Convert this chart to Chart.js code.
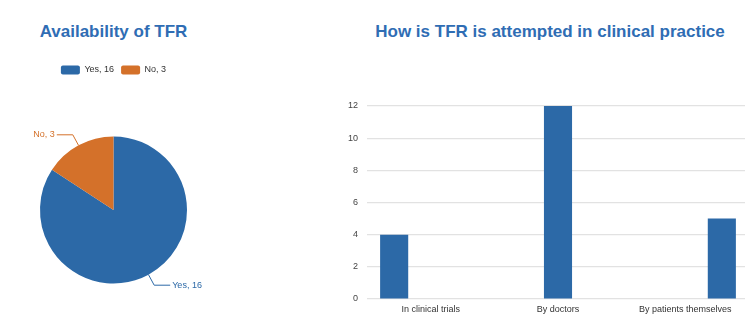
<!DOCTYPE html>
<html>
<head>
<meta charset="utf-8">
<script src="https://cdn.jsdelivr.net/npm/chart.js@4.4.0/dist/chart.umd.min.js"></script>
<style>
  html, body { margin: 0; padding: 0; background: #fff; overflow: hidden; }
  body { width: 745px; height: 319px; position: relative; }
  .title { position: absolute; top: 22px; font: bold 17px "Liberation Sans", Arial, sans-serif; color: #2f6db4; text-align: center; white-space: nowrap; }
  #pieBox { position: absolute; left: 0; top: 0; width: 227px; height: 319px; }
  #barBox { position: absolute; left: 340px; top: 0; width: 420px; height: 319px; }
</style>
</head>
<body>
<div class="title" style="left:0;width:227px">Availability of TFR</div>
<div class="title" style="left:340px;width:420px">How is TFR is attempted in clinical practice</div>
<div id="pieBox"><canvas id="pieChart"></canvas></div>
<div id="barBox"><canvas id="barChart"></canvas></div>
<script>
const pieLabels = ['Yes, 16', 'No, 3'];
const pieValues = [16, 3];
const pieColors = ['#2c69a7', '#d4712a'];

const barCategories = ['In clinical trials', 'By doctors', 'By patients themselves'];
const barValues = [4, 12, 5];
const barColor = '#2c69a7';

const smallFont = { family: '"Liberation Sans", Arial, sans-serif', size: 9 };

// labels outside the pie with an elbow leader line
const outsideLabels = {
  id: 'outsideLabels',
  afterDatasetsDraw(chart) {
    const ctx = chart.ctx;
    const meta = chart.getDatasetMeta(0);
    ctx.save();
    ctx.font = '9px "Liberation Sans", Arial, sans-serif';
    ctx.textBaseline = 'middle';
    ctx.lineWidth = 1;
    meta.data.forEach((arc, i) => {
      const p = arc.getProps(['x', 'y', 'startAngle', 'endAngle', 'outerRadius'], true);
      const mid = (p.startAngle + p.endAngle) / 2;
      const dx = Math.cos(mid), dy = Math.sin(mid);
      const x0 = p.x + dx * p.outerRadius, y0 = p.y + dy * p.outerRadius;
      const x1 = p.x + dx * (p.outerRadius + 12), y1 = p.y + dy * (p.outerRadius + 12);
      const side = dx < 0 ? -1 : 1;
      const x2 = x1 + side * 16;
      ctx.strokeStyle = pieColors[i];
      ctx.fillStyle = pieColors[i];
      ctx.beginPath();
      ctx.moveTo(x0, y0);
      ctx.lineTo(x1, y1);
      ctx.lineTo(x2, y1);
      ctx.stroke();
      ctx.textAlign = side < 0 ? 'right' : 'left';
      ctx.fillText(pieLabels[i], x2 + side * 2, y1);
    });
    ctx.restore();
  }
};

// push the pie below the legend
const legendGap = {
  id: 'legendGap',
  beforeInit(chart) {
    const fit = chart.legend.fit;
    chart.legend.fit = function () {
      fit.bind(chart.legend)();
      this.height += 52;
    };
  }
};

new Chart(document.getElementById('pieChart'), {
  type: 'pie',
  data: {
    labels: pieLabels,
    datasets: [{ data: pieValues, backgroundColor: pieColors, borderWidth: 0 }]
  },
  options: {
    responsive: true,
    maintainAspectRatio: false,
    animation: false,
    layout: { padding: { top: 58.5, bottom: 35.5, left: 40, right: 40 } },
    plugins: {
      legend: {
        position: 'top',
        labels: {
          boxWidth: 19, boxHeight: 9, padding: 7,
          useBorderRadius: true, borderRadius: 2,
          color: '#333', font: smallFont
        }
      },
      tooltip: { enabled: false }
    }
  },
  plugins: [outsideLabels, legendGap]
});

const barDatasets = barValues.map((v, i) => ({
  label: barCategories[i],
  data: barCategories.map((c, j) => (j === i ? v : null)),
  backgroundColor: barColor,
  categoryPercentage: 0.86,
  barPercentage: 0.77
}));

new Chart(document.getElementById('barChart'), {
  type: 'bar',
  data: { labels: barCategories, datasets: barDatasets },
  options: {
    responsive: true,
    maintainAspectRatio: false,
    animation: false,
    layout: { padding: { top: 106, right: 11 } },
    plugins: { legend: { display: false }, tooltip: { enabled: false } },
    scales: {
      x: {
        grid: { display: false, drawTicks: false },
        border: { display: false },
        ticks: { color: '#333', font: smallFont, padding: 5, maxRotation: 0 },
        afterFit(scale) { scale.height = 20; }
      },
      y: {
        min: 0, max: 12,
        ticks: { stepSize: 2, color: '#444', font: smallFont, padding: 9 },
        grid: { color: '#e2e2e2', lineWidth: 1.2, drawTicks: false },
        border: { display: false },
        afterFit(scale) { scale.width = 27; }
      }
    }
  }
});
</script>
</body>
</html>
